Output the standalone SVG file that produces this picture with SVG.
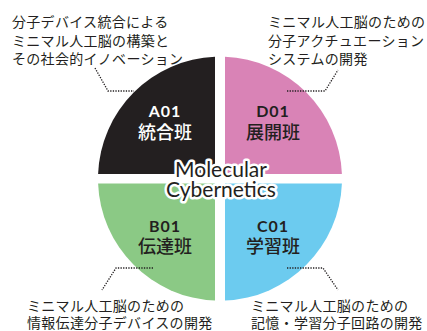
<svg xmlns="http://www.w3.org/2000/svg" width="427" height="331" viewBox="0 0 427 331">
<style>
.note{font-family:"Noto Sans CJK JP","Noto Sans",sans-serif;font-size:14px;fill:#231f20;letter-spacing:0.3px}
.code{font-family:Lato,"Noto Sans",sans-serif;font-weight:bold;font-size:16px;letter-spacing:1px;text-anchor:middle}
.name{font-family:"Noto Sans CJK JP",sans-serif;font-weight:500;font-size:18px;text-anchor:middle}
.dark{fill:#231f20}
.light{fill:#ffffff}
.lead{fill:none;stroke:#231f20;stroke-width:1.3;stroke-dasharray:1.3 1.3}
.title{font-family:Lato,"Open Sans",sans-serif;font-size:21px;text-anchor:middle;fill:#231f20;stroke:#ffffff;stroke-width:5;stroke-linejoin:round;paint-order:stroke}
</style>
<rect width="427" height="331" fill="#ffffff"/>
<g id="A01">
<path d="M215,174 L98.1,174 A122,122 0 0 1 215,56.8 Z" fill="#231f20"/>
<text class="code light" x="165" y="117">A01</text>
<text class="name light" x="165" y="138.5">統合班</text>
</g>
<g id="D01">
<path d="M225,174 L225,56.8 A122,122 0 0 1 341.9,174 Z" fill="#d983b6"/>
<text class="code dark" x="273" y="117">D01</text>
<text class="name dark" x="273" y="138.5">展開班</text>
</g>
<g id="B01">
<path d="M215,183.4 L215,300.6 A122,122 0 0 1 98.1,183.4 Z" fill="#8bc985"/>
<text class="code dark" x="165" y="231.5">B01</text>
<text class="name dark" x="165" y="253">伝達班</text>
</g>
<g id="C01">
<path d="M225,183.4 L341.9,183.4 A122,122 0 0 1 225,300.6 Z" fill="#6ccbef"/>
<text class="code dark" x="273" y="231.5">C01</text>
<text class="name dark" x="273" y="253">学習班</text>
</g>
<g id="connectors">
<polyline class="lead" points="95,68 108,91 134,91"/>
<polyline class="lead" points="287,91 325,91 338,70"/>
<polyline class="lead" points="153,268 116,268 102,290"/>
<polyline class="lead" points="287,268 323,268 338,290"/>
</g>
<g id="center-title">
<text class="title" x="221" y="177">Molecular</text>
<text class="title" x="221" y="196.5">Cybernetics</text>
</g>
<g id="note-A01">
<text class="note" x="12" y="27">分子デバイス統合による</text>
<text class="note" x="12" y="45.5">ミニマル人工脳の構築と</text>
<text class="note" x="12" y="64">その社会的イノベーション</text>
</g>
<g id="note-D01">
<text class="note" x="268" y="27">ミニマル人工脳のための</text>
<text class="note" x="268" y="45.5">分子アクチュエーション</text>
<text class="note" x="268" y="64">システムの開発</text>
</g>
<g id="note-B01">
<text class="note" x="27" y="310.5">ミニマル人工脳のための</text>
<text class="note" x="27" y="328">情報伝達分子デバイスの開発</text>
</g>
<g id="note-C01">
<text class="note" x="251" y="310.5">ミニマル人工脳のための</text>
<text class="note" x="251" y="328">記憶・学習分子回路の開発</text>
</g>
</svg>
